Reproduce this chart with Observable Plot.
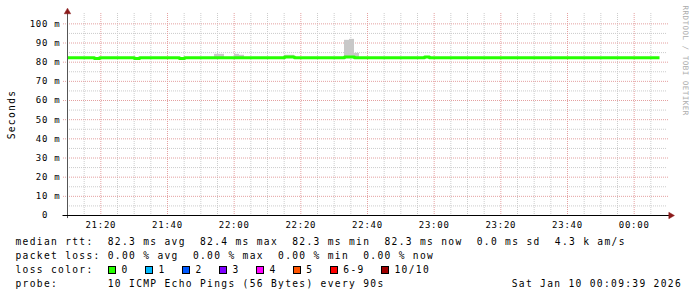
<!DOCTYPE html>
<html>
<head>
<meta charset="utf-8">
<script src="https://cdn.jsdelivr.net/npm/d3@7"></script>
<script src="https://cdn.jsdelivr.net/npm/@observablehq/plot@0.6"></script>
<style>
html, body { margin: 0; padding: 0; background: #fff; }
#chart { width: 697px; height: 297px; overflow: hidden; background: #fff; }
#chart svg { display: block; }
#legend { font-family: "DejaVu Sans Mono", monospace; font-size: 9.6px; letter-spacing: 1.32px; color: #000; padding-left: 15.5px; padding-right: 15px; margin-top: 3px; }
.row { height: 14px; line-height: 14px; white-space: pre; display: flex; align-items: center; }
.sw { display: inline-block; box-sizing: border-box; width: 8px; height: 8px; border: 1px solid #000; margin: 0 5.3px 0 0.4px; }
.lab { margin-right: 16.2px; }
.grow { flex: 1; }
</style>
</head>
<body>
<div id="chart"></div>
<script>
// ---- data ----
const domainStart = "2026-01-09T21:10:00Z";
const domainEnd = "2026-01-10T00:10:00Z";
const firstStep = "2026-01-09T21:09:06Z"; // start of first 90 s step
const stepSeconds = 90;

// median RTT (ms) per 90 s step
const medians = [
  82.3, 82.3, 82.3, 82.3, 82.3, 82.3, 81.9, 82.3, 82.3, 82.3,
  82.3, 82.3, 82.3, 82.3, 81.9, 82.3, 82.3, 82.3, 82.3, 82.3,
  82.3, 82.3, 82.3, 81.9, 82.3, 82.3, 82.3, 82.3, 82.3, 82.3,
  82.3, 82.3, 82.3, 82.3, 82.3, 82.3, 82.3, 82.3, 82.3, 82.3,
  82.3, 82.3, 82.3, 82.3, 82.7, 82.7, 82.3, 82.3, 82.3, 82.3,
  82.3, 82.3, 82.3, 82.3, 82.3, 82.3, 82.7, 82.7, 82.3, 82.3,
  82.3, 82.3, 82.3, 82.3, 82.3, 82.3, 82.3, 82.3, 82.3, 82.3,
  82.3, 82.3, 82.7, 82.3, 82.3, 82.3, 82.3, 82.3, 82.3, 82.3,
  82.3, 82.3, 82.3, 82.3, 82.3, 82.3, 82.3, 82.3, 82.3, 82.3,
  82.3, 82.3, 82.3, 82.3, 82.3, 82.3, 82.3, 82.3, 82.3, 82.3,
  82.3, 82.3, 82.3, 82.3, 82.3, 82.3, 82.3, 82.3, 82.3, 82.3,
  82.3, 82.3, 82.3, 82.3, 82.3, 82.3, 82.3, 82.3, 82.3
];

// smoke (max ping) for steps where it shows above the median
const smokeSteps = [30, 31, 34, 35, 44, 45, 56, 57, 58];
const smokeTop   = [84.1, 84.1, 84.1, 83.6, 83.6, 83.6, 91.4, 91.9, 84.6];

const yTicks = [0, 10, 20, 30, 40, 50, 60, 70, 80, 90, 100];
const yMinor = [5, 15, 25, 35, 45, 55, 65, 75, 85, 95];
const yTop = 105.4;
const xTickLabels = ["21:20", "21:40", "22:00", "22:20", "22:40", "23:00", "23:20", "23:40", "00:00"];
const xTickDates = ["2026-01-09T21:20:00Z", "2026-01-09T21:40:00Z", "2026-01-09T22:00:00Z", "2026-01-09T22:20:00Z",
  "2026-01-09T22:40:00Z", "2026-01-09T23:00:00Z", "2026-01-09T23:20:00Z", "2026-01-09T23:40:00Z", "2026-01-10T00:00:00Z"];

const lossLabels = ["0", "1", "2", "3", "4", "5", "6-9", "10/10"];
const lossColors = ["#26ff00", "#00b8ff", "#0059ff", "#7e00ff", "#ff00ff", "#ff5500", "#ff0000", "#a00000"];

const statsLine = "median rtt:  82.3 ms avg  82.4 ms max  82.3 ms min  82.3 ms now  0.0 ms sd  4.3 k am/s";
const lossLine = "packet loss: 0.00 % avg  0.00 % max  0.00 % min  0.00 % now";
const probeLine = "probe:       10 ICMP Echo Pings (56 Bytes) every 90s";
const stampLine = "Sat Jan 10 00:09:39 2026";

// ---- build ----
const t0 = new Date(domainStart), t1 = new Date(domainEnd);
const s0 = new Date(firstStep);
const stepStart = i => new Date(+s0 + i * stepSeconds * 1000);
const lineData = medians.map((v, i) => ({t: stepStart(i), v}));
lineData.push({t: stepStart(medians.length), v: medians[medians.length - 1]});
const smokeData = smokeSteps.map((i, j) => ({a: stepStart(i), b: stepStart(i + 1), lo: medians[i], hi: smokeTop[j]}));
const xMajor = xTickDates.map(d => new Date(d));
const majorSet = new Set(xMajor.map(d => +d));
const xMinor = d3.utcMinute.every(5).range(new Date(+t0 + 1), t1).filter(d => !majorSet.has(+d));
const labelFor = d => xTickLabels[xMajor.findIndex(m => +m === +d)];
const secPerPx = 18;               // 3 h over 600 px
const pxT = n => new Date(+t0 + n * secPerPx * 1000);
const pxTe = n => new Date(+t1 + n * secPerPx * 1000);
const unitPerPx = yTop / 202;
const pxV = n => yTop + n * unitPerPx;

const svg = Plot.plot({
  width: 697,
  height: 232,
  marginLeft: 67,
  marginRight: 30,
  marginTop: 13,
  marginBottom: 17,
  style: {fontFamily: "DejaVu Sans Mono", fontSize: "9px", background: "transparent", color: "#000"},
  x: {type: "utc", domain: [t0, t1], ticks: xMajor, tickFormat: labelFor, tickSize: 0, tickPadding: 6, label: null},
  y: {domain: [0, yTop], ticks: yTicks, tickSize: 0, tickPadding: 7, label: null,
      tickFormat: d => d === 0 ? "0\u00a0\u00a0" : d + " m"},
  marks: [
    Plot.ruleY(yMinor, {stroke: "#cccccc", strokeDasharray: "1,1"}),
    Plot.ruleX(xMinor, {stroke: "#cccccc", strokeDasharray: "1,1"}),
    Plot.ruleY(yTicks.filter(d => d > 0), {x1: pxT(-4), x2: pxTe(2), stroke: "#e4a0a0", strokeDasharray: "1,1"}),
    Plot.ruleX(xMajor, {stroke: "#e4a0a0", strokeDasharray: "1,1"}),
    Plot.rect(smokeData, {x1: "a", x2: "b", y1: "lo", y2: "hi", fill: "#c8c8c8", clip: true}),
    Plot.line(lineData, {x: "t", y: "v", curve: "step-after", stroke: "#26ff00", strokeWidth: 3, strokeLinecap: "butt", clip: true}),
    Plot.ruleX([t0], {y1: -1.6, y2: pxV(3), stroke: "#555"}),
    Plot.ruleY([0], {x1: pxT(-4.5), x2: pxTe(2), stroke: "#000"}),
    Plot.dot([{x: t0, y: pxV(1.6)}], {x: "x", y: "y", symbol: "triangle", r: 2.4, fill: "#8b1a1a", stroke: "#8b1a1a", strokeWidth: 0.5}),
    Plot.dot([{x: pxTe(3.2), y: 0}], {x: "x", y: "y", symbol: "triangle", r: 2.4, rotate: 90, fill: "#8b1a1a", stroke: "#8b1a1a", strokeWidth: 0.5}),
    Plot.text(["Seconds"], {frameAnchor: "left", textAnchor: "middle", rotate: -90, dx: -56, fontSize: 9.6, fill: "#000"}),
    Plot.text(["RRDTOOL / TOBI OETIKER"], {frameAnchor: "top-right", rotate: 90, textAnchor: "start", dx: 20.5, dy: -8, fontSize: 7.5, fill: "#aaaaaa"})
  ]
});

const sel = d3.select(svg);
sel.selectAll('[aria-label="y-axis tick label"] text, [aria-label="x-axis tick label"] text').style("letter-spacing", "0.75px");
sel.selectAll('g[aria-label="text"] text').each(function() {
  const t = this.textContent;
  if (t === "Seconds") this.style.letterSpacing = "1.32px";
  else this.style.letterSpacing = "0.5px";
});

const chart = document.getElementById("chart");
chart.appendChild(svg);

// ---- legend (below the SVG) ----
const legend = document.createElement("div");
legend.id = "legend";
const row = () => { const r = document.createElement("div"); r.className = "row"; legend.appendChild(r); return r; };
const r1 = row(); r1.textContent = statsLine;
const r2 = row(); r2.textContent = lossLine;
const r3 = row();
const head = document.createElement("span"); head.textContent = "loss color:  "; r3.appendChild(head);
lossLabels.forEach((l, i) => {
  const sw = document.createElement("span"); sw.className = "sw"; sw.style.background = lossColors[i]; r3.appendChild(sw);
  const lb = document.createElement("span"); lb.className = "lab"; lb.textContent = l; r3.appendChild(lb);
});
const r4 = row();
const p = document.createElement("span"); p.textContent = probeLine; r4.appendChild(p);
const g = document.createElement("span"); g.className = "grow"; r4.appendChild(g);
const s = document.createElement("span"); s.textContent = stampLine; r4.appendChild(s);
chart.appendChild(legend);
</script>
</body>
</html>
